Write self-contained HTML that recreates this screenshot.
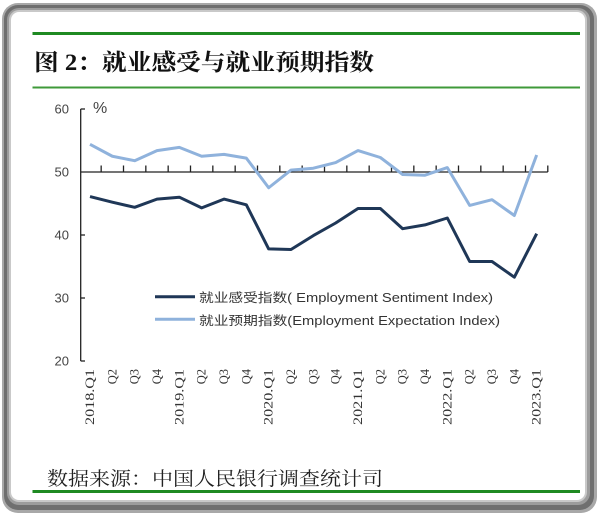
<!DOCTYPE html>
<html><head><meta charset="utf-8"><style>
html,body{margin:0;padding:0;background:#fff;}
svg{display:block;}
</style></head><body>
<svg width="600" height="516" viewBox="0 0 600 516" xmlns="http://www.w3.org/2000/svg">
<rect x="0" y="0" width="600" height="516" fill="#fff"/>
<rect x="2" y="3" width="595" height="510" rx="16" fill="#a8a8a8"/>
<rect x="4" y="5" width="590" height="505" rx="14" fill="#6f6f6f"/>
<rect x="7" y="8" width="583" height="497" rx="12" fill="#9c9c9c"/>
<rect x="9" y="10" width="578" height="492" rx="10" fill="#c9c9c9"/>
<rect x="11" y="12" width="574" height="488" rx="8" fill="#fff"/>

<line x1="32.5" y1="33.5" x2="580" y2="33.5" stroke="#1f8a22" stroke-width="3"/>
<line x1="32.5" y1="87.5" x2="580" y2="87.5" stroke="#3f9a3a" stroke-width="2"/>
<line x1="32.5" y1="491.5" x2="580" y2="491.5" stroke="#1f8a22" stroke-width="3"/>

<text x="34" y="70" font-family="Liberation Serif, 'Noto Serif CJK SC', serif" font-weight="bold" font-size="23" fill="#111" textLength="340" lengthAdjust="spacingAndGlyphs">图 2：就业感受与就业预期指数</text>

<text x="47" y="485" font-family="Liberation Serif, 'Noto Serif CJK SC', serif" font-size="19" fill="#222" textLength="336" lengthAdjust="spacingAndGlyphs">数据来源：中国人民银行调查统计司</text>

<!-- y axis -->
<g stroke="#222" stroke-width="1.3" fill="none">
<line x1="80.7" y1="109" x2="80.7" y2="361"/>
<line x1="80.7" y1="109" x2="85" y2="109"/>
<line x1="80.7" y1="235" x2="85" y2="235"/>
<line x1="80.7" y1="298" x2="85" y2="298"/>
<line x1="80.7" y1="361" x2="85" y2="361"/>
<line x1="80.7" y1="172" x2="547.8" y2="172"/>
<path d="M101.17 165.5V172M123.5 165.5V172M145.83 165.5V172M168.17 165.5V172M190.5 165.5V172M212.83 165.5V172M235.17 165.5V172M257.5 165.5V172M279.83 165.5V172M302.17 165.5V172M324.5 165.5V172M346.83 165.5V172M369.17 165.5V172M391.5 165.5V172M413.83 165.5V172M436.17 165.5V172M458.5 165.5V172M480.83 165.5V172M503.17 165.5V172M525.5 165.5V172M547.8 165.5V172"/>
</g>

<g font-family="Liberation Sans, sans-serif" font-size="13" fill="#444" text-anchor="end">
<text x="69" y="113.5">60</text>
<text x="69" y="176.5">50</text>
<text x="69" y="239.5">40</text>
<text x="69" y="302.5">30</text>
<text x="69" y="365.5">20</text>
</g>
<text x="93" y="113" font-family="Liberation Sans, sans-serif" font-size="16" fill="#444">%</text>

<!-- series -->
<polyline fill="none" stroke="#1f3757" stroke-width="3" stroke-linejoin="round" points="90,196.6 112.33,202.2 134.67,207.3 157,199.1 179.33,197.2 201.67,207.9 224,199.1 246.33,204.8 268.67,248.9 291,249.5 313.33,235.6 335.67,223 358,208.5 380.33,208.5 402.67,228.7 425,224.9 447.33,218 469.67,261.5 492,261.5 514.33,277.2 536.67,233.7"/>
<polyline fill="none" stroke="#8fb2dc" stroke-width="3" stroke-linejoin="round" points="90,144.3 112.33,156.25 134.67,160.7 157,150.6 179.33,147.4 201.67,156.25 224,154.4 246.33,158.1 268.67,187.75 291,170.1 313.33,168.2 335.67,162.6 358,150.6 380.33,157.5 402.67,174.5 425,175.2 447.33,167.6 469.67,205.4 492,199.7 514.33,215.5 536.67,155"/>

<!-- legend -->
<line x1="155" y1="296.7" x2="195" y2="296.7" stroke="#1f3757" stroke-width="3"/>
<line x1="155" y1="319.3" x2="195" y2="319.3" stroke="#8fb2dc" stroke-width="3"/>
<g font-family="Liberation Sans, 'Noto Sans CJK SC', sans-serif" font-size="12.5" fill="#333">
<text x="199" y="302" textLength="294" lengthAdjust="spacingAndGlyphs">就业感受指数( Employment Sentiment Index)</text>
<text x="199" y="325" textLength="301" lengthAdjust="spacingAndGlyphs">就业预期指数(Employment Expectation Index)</text>
</g>

<!-- x labels -->
<g font-family="Liberation Serif, serif" font-size="12.5" fill="#333" text-anchor="end">
<text transform="translate(94,369) rotate(-90)" textLength="56" lengthAdjust="spacingAndGlyphs">2018.Q1</text>
<text transform="translate(116.33,369) rotate(-90)">Q2</text>
<text transform="translate(138.67,369) rotate(-90)">Q3</text>
<text transform="translate(161,369) rotate(-90)">Q4</text>
<text transform="translate(183.33,369) rotate(-90)" textLength="56" lengthAdjust="spacingAndGlyphs">2019.Q1</text>
<text transform="translate(205.67,369) rotate(-90)">Q2</text>
<text transform="translate(228,369) rotate(-90)">Q3</text>
<text transform="translate(250.33,369) rotate(-90)">Q4</text>
<text transform="translate(272.67,369) rotate(-90)" textLength="56" lengthAdjust="spacingAndGlyphs">2020.Q1</text>
<text transform="translate(295,369) rotate(-90)">Q2</text>
<text transform="translate(317.33,369) rotate(-90)">Q3</text>
<text transform="translate(339.67,369) rotate(-90)">Q4</text>
<text transform="translate(362,369) rotate(-90)" textLength="56" lengthAdjust="spacingAndGlyphs">2021.Q1</text>
<text transform="translate(384.33,369) rotate(-90)">Q2</text>
<text transform="translate(406.67,369) rotate(-90)">Q3</text>
<text transform="translate(429,369) rotate(-90)">Q4</text>
<text transform="translate(451.33,369) rotate(-90)" textLength="56" lengthAdjust="spacingAndGlyphs">2022.Q1</text>
<text transform="translate(473.67,369) rotate(-90)">Q2</text>
<text transform="translate(496,369) rotate(-90)">Q3</text>
<text transform="translate(518.33,369) rotate(-90)">Q4</text>
<text transform="translate(540.67,369) rotate(-90)" textLength="56" lengthAdjust="spacingAndGlyphs">2023.Q1</text>
</g>
</svg>
</body></html>
